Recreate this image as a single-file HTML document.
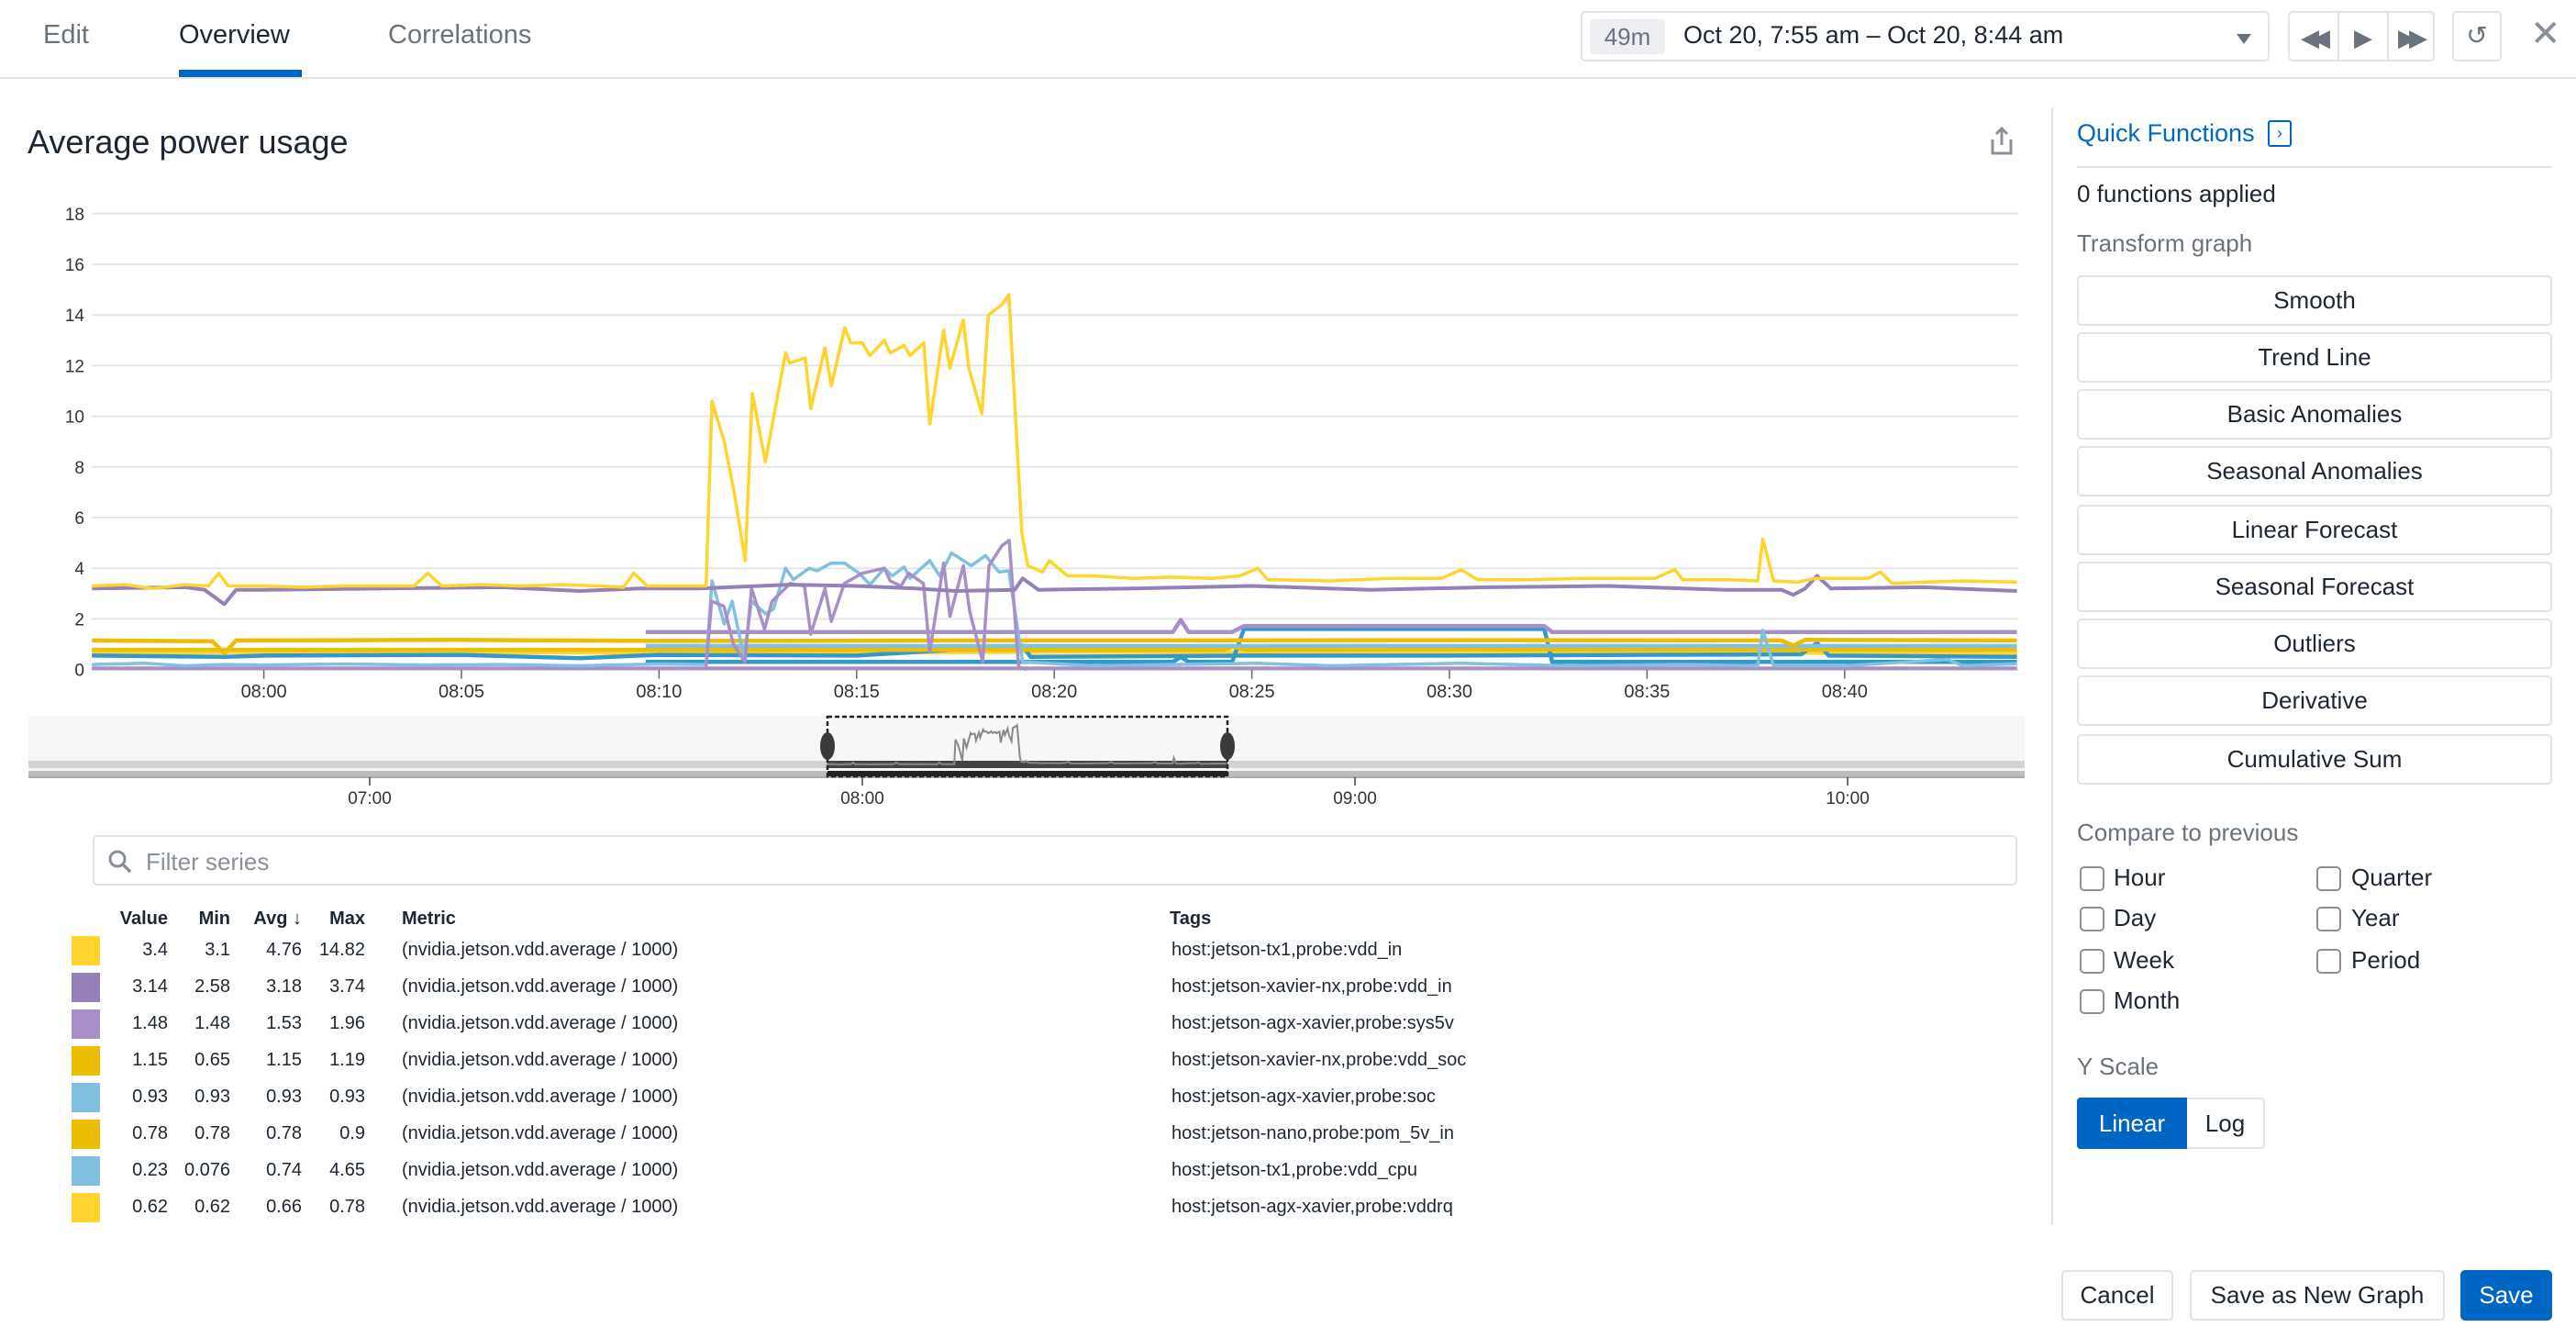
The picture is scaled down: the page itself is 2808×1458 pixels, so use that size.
<!DOCTYPE html>
<html><head><meta charset="utf-8">
<style>
*{box-sizing:border-box;margin:0;padding:0}
body{width:2808px;height:1458px;position:relative;background:#fff;font-family:"Liberation Sans",sans-serif;color:#1d2733;overflow:hidden}
.a{position:absolute}
.tab{position:absolute;top:22px;font-size:29px;color:#6a737d}
.btn{position:absolute;left:2264px;width:518px;height:55px;border:2px solid #e1e3e8;border-radius:5px;background:#fff;font-size:26px;text-align:center;line-height:51px;color:#1d2733}
.cb{position:absolute;width:27px;height:27px;border:2px solid #8a9099;border-radius:5px;background:#fff}
.cbl{position:absolute;font-size:26px;color:#1d2733}
.lg{position:absolute;font-size:20px;color:#1d2733;white-space:nowrap}
.num{text-align:right}
.sw{position:absolute;left:78px;width:31px;height:32px}
</style></head>
<body>
<!-- header -->
<div class="tab" style="left:47px">Edit</div>
<div class="tab" style="left:195px;color:#1d2733">Overview</div>
<div class="a" style="left:195px;top:76px;width:134px;height:8px;background:#0066c4"></div>
<div class="tab" style="left:423px">Correlations</div>
<div class="a" style="left:0;top:84px;width:2808px;height:2px;background:#e1e3e8"></div>

<div class="a" style="left:1723px;top:12px;width:751px;height:55px;border:2px solid #e1e3e8;border-radius:5px">
  <div class="a" style="left:8px;top:7px;width:82px;height:38px;background:#eceef1;border-radius:4px;font-size:26px;color:#6a737d;text-align:center;line-height:38px">49m</div>
  <div class="a" style="left:110px;top:9px;font-size:27px;color:#1d2733">Oct 20, 7:55 am – Oct 20, 8:44 am</div>
  <div class="a" style="left:713px;top:23px;width:0;height:0;border-left:8px solid transparent;border-right:8px solid transparent;border-top:11px solid #6a737d"></div>
</div>
<div class="a" style="left:2494px;top:12px;width:160px;height:55px;border:2px solid #e1e3e8;border-radius:5px">
  <div class="a" style="left:52px;top:0;width:2px;height:51px;background:#e1e3e8"></div>
  <div class="a" style="left:106px;top:0;width:2px;height:51px;background:#e1e3e8"></div>
  <div class="a" style="left:12px;top:12px;font-size:26px;color:#6a737d;letter-spacing:-8px">◀◀</div>
  <div class="a" style="left:70px;top:12px;font-size:26px;color:#6a737d">▶</div>
  <div class="a" style="left:118px;top:12px;font-size:26px;color:#6a737d;letter-spacing:-8px">▶▶</div>
</div>
<div class="a" style="left:2673px;top:12px;width:54px;height:55px;border:2px solid #e1e3e8;border-radius:5px;font-size:28px;color:#6a737d;text-align:center;line-height:50px">↺</div>
<div class="a" style="left:2758px;top:14px;font-size:40px;color:#8a9099;font-weight:200">✕</div>

<div class="a" style="left:30px;top:134px;font-size:36px;color:#1d2733">Average power usage</div>
<svg class="a" style="left:2168px;top:138px" width="28" height="32" viewBox="0 0 28 32"><path d="M14 2 L14 20 M8 8 L14 2 L20 8" stroke="#8a9099" stroke-width="3" fill="none"/><path d="M4 14 L4 29 L24 29 L24 14" stroke="#8a9099" stroke-width="3" fill="none"/></svg>

<!-- chart -->
<svg class="a" id="chart" style="left:0;top:200px" width="2230" height="580" viewBox="0 200 2230 580"></svg>

<!-- navigator -->
<svg class="a" id="nav" style="left:0;top:770px" width="2230" height="120" viewBox="0 770 2230 120"></svg>

<!-- filter -->
<div class="a" style="left:101px;top:910px;width:2098px;height:55px;border:2px solid #e1e3e8;border-radius:5px">
  <svg class="a" style="left:14px;top:13px" width="28" height="28" viewBox="0 0 28 28"><circle cx="11" cy="11" r="8" stroke="#8a9099" stroke-width="3" fill="none"/><path d="M17 17 L25 25" stroke="#8a9099" stroke-width="3.5"/></svg>
  <div class="a" style="left:56px;top:12px;font-size:26px;color:#8a9099">Filter series</div>
</div>

<!-- legend -->
<div id="legend">
  <div class="lg num" style="left:110px;top:990px;width:73px;font-weight:bold">Value</div>
  <div class="lg num" style="left:190px;top:990px;width:61px;font-weight:bold">Min</div>
  <div class="lg num" style="left:260px;top:990px;width:69px;font-weight:bold">Avg ↓</div>
  <div class="lg num" style="left:340px;top:990px;width:58px;font-weight:bold">Max</div>
  <div class="lg" style="left:438px;top:990px;font-weight:bold">Metric</div>
  <div class="lg" style="left:1275px;top:990px;font-weight:bold">Tags</div>
</div>

<!-- right panel -->
<div class="a" style="left:2236px;top:118px;width:2px;height:1217px;background:#e1e3e8"></div>
<div class="a" style="left:2264px;top:130px;font-size:27px;color:#0066c4">Quick Functions</div>
<div class="a" style="left:2472px;top:131px;width:26px;height:29px;border:2px solid #0066c4;border-radius:3px;color:#0066c4;font-size:18px;line-height:24px;text-align:center">›</div>
<div class="a" style="left:2264px;top:181px;width:518px;height:2px;background:#e1e3e8"></div>
<div class="a" style="left:2264px;top:196px;font-size:26px">0 functions applied</div>
<div class="a" style="left:2264px;top:250px;font-size:26px;color:#6a737d">Transform graph</div>
<div class="btn" style="top:300px">Smooth</div>
<div class="btn" style="top:362px">Trend Line</div>
<div class="btn" style="top:424px">Basic Anomalies</div>
<div class="btn" style="top:486px">Seasonal Anomalies</div>
<div class="btn" style="top:550px">Linear Forecast</div>
<div class="btn" style="top:612px">Seasonal Forecast</div>
<div class="btn" style="top:674px">Outliers</div>
<div class="btn" style="top:736px">Derivative</div>
<div class="btn" style="top:800px">Cumulative Sum</div>

<div class="a" style="left:2264px;top:892px;font-size:26px;color:#6a737d">Compare to previous</div>
<div class="cb" style="left:2267px;top:944px"></div><div class="cbl" style="left:2304px;top:941px">Hour</div>
<div class="cb" style="left:2267px;top:988px"></div><div class="cbl" style="left:2304px;top:985px">Day</div>
<div class="cb" style="left:2267px;top:1034px"></div><div class="cbl" style="left:2304px;top:1031px">Week</div>
<div class="cb" style="left:2267px;top:1078px"></div><div class="cbl" style="left:2304px;top:1075px">Month</div>
<div class="cb" style="left:2525px;top:944px"></div><div class="cbl" style="left:2563px;top:941px">Quarter</div>
<div class="cb" style="left:2525px;top:988px"></div><div class="cbl" style="left:2563px;top:985px">Year</div>
<div class="cb" style="left:2525px;top:1034px"></div><div class="cbl" style="left:2563px;top:1031px">Period</div>

<div class="a" style="left:2264px;top:1147px;font-size:26px;color:#6a737d">Y Scale</div>
<div class="a" style="left:2264px;top:1196px;width:120px;height:56px;background:#0066c4;border-radius:4px 0 0 4px;color:#fff;font-size:26px;text-align:center;line-height:56px">Linear</div>
<div class="a" style="left:2384px;top:1196px;width:85px;height:56px;border:2px solid #e1e3e8;border-left:none;border-radius:0 4px 4px 0;font-size:26px;text-align:center;line-height:52px">Log</div>

<div class="a" style="left:2247px;top:1384px;width:122px;height:55px;border:2px solid #e1e3e8;border-radius:5px;font-size:26px;text-align:center;line-height:51px">Cancel</div>
<div class="a" style="left:2387px;top:1384px;width:278px;height:55px;border:2px solid #e1e3e8;border-radius:5px;font-size:26px;text-align:center;line-height:51px">Save as New Graph</div>
<div class="a" style="left:2682px;top:1384px;width:100px;height:55px;background:#0066c4;border-radius:5px;font-size:26px;color:#fff;text-align:center;line-height:55px">Save</div>

<script>
// ---- chart data (time = minutes after 08:00) ----
const yTicks = [0,2,4,6,8,10,12,14,16,18];
const xTickMinutes = [0,5,10,15,20,25,30,35,40];
const xTickLabels = ["08:00","08:05","08:10","08:15","08:20","08:25","08:30","08:35","08:40"];
const navTickHours = [7,8,9,10];
const navTickLabels = ["07:00","08:00","09:00","10:00"];

const tx1InT = [-4.35,-3.5,-2.8,-2.0,-1.4,-1.14,-0.9,0,1,2,3,3.8,4.15,4.5,5.5,6.5,7.5,8.5,9.1,9.36,9.7,10.5,11.19,11.34,11.65,11.9,12.18,12.36,12.69,13.2,13.3,13.7,13.84,14.2,14.36,14.7,14.85,15.14,15.34,15.7,15.85,16.2,16.35,16.7,16.85,17.2,17.36,17.7,17.84,18.17,18.33,18.67,18.85,19.18,19.33,19.7,19.88,20.34,21,22,23,24,24.7,25.15,25.4,27,28.5,29.8,30.3,30.7,32,33.5,35.2,35.7,35.9,37,37.8,37.93,38.2,38.8,39.26,40,40.6,40.9,41.2,42,43,44.36];
const tx1InV = [3.3,3.35,3.2,3.35,3.3,3.8,3.3,3.3,3.25,3.3,3.3,3.3,3.8,3.3,3.35,3.3,3.35,3.3,3.25,3.8,3.3,3.3,3.3,10.6,9.0,7.0,4.3,10.9,8.2,12.5,12.1,12.3,10.3,12.7,11.2,13.5,12.9,12.9,12.4,13.0,12.5,12.8,12.4,12.9,9.7,13.4,11.9,13.8,11.9,10.1,14.0,14.4,14.8,5.4,4.1,3.85,4.3,3.7,3.7,3.6,3.65,3.6,3.7,4.0,3.55,3.5,3.6,3.6,3.95,3.55,3.55,3.6,3.6,3.95,3.55,3.55,3.5,5.15,3.5,3.45,3.6,3.6,3.6,3.85,3.4,3.45,3.5,3.45];

const nxInT = [-4.35,-2,-1.5,-1.0,-0.7,0,3,6,8,9.5,11,13.3,15,16.5,17.5,19.0,19.2,19.6,22,25,28,31,34,37,38.4,38.7,39.0,39.3,39.65,42,44.36];
const nxInV = [3.2,3.25,3.15,2.58,3.15,3.15,3.2,3.25,3.1,3.2,3.2,3.35,3.3,3.2,3.1,3.15,3.6,3.15,3.2,3.3,3.15,3.25,3.3,3.15,3.15,2.95,3.2,3.7,3.2,3.25,3.1];

const agxSys5vT = [9.66,23.0,23.2,23.4,24.5,24.8,32.4,32.6,44.36];
const agxSys5vV = [1.48,1.48,1.96,1.48,1.48,1.72,1.72,1.48,1.48];

const nxSocT = [-4.35,-1.3,-1.0,-0.7,5,10,20,30,38.4,38.7,39.0,44.36];
const nxSocV = [1.15,1.12,0.65,1.15,1.17,1.13,1.15,1.16,1.15,0.95,1.17,1.15];

const agxSocT = [9.66,44.36];
const agxSocV = [0.93,0.93];

const nanoT = [-4.35,10,24.3,24.5,24.9,30,44.36];
const nanoV = [0.78,0.78,0.78,0.9,0.78,0.8,0.78];

const tx1CpuT = [-4.35,-3,-2,-1,0,2,4,6,8,10,11.19,11.34,11.65,11.85,12.15,12.34,12.7,12.9,13.2,13.4,13.8,14.0,14.35,14.7,15.06,15.34,15.7,15.9,16.2,16.35,16.85,17.1,17.4,17.9,18.26,18.6,18.85,19.2,21,23,25.15,27,30.3,33,36,37.8,37.93,38.2,40,42.6,43,44.36];
const tx1CpuV = [0.2,0.25,0.15,0.2,0.18,0.22,0.18,0.2,0.15,0.22,0.2,3.5,1.8,2.7,0.5,2.7,2.2,2.4,4.0,3.55,4.0,3.9,4.2,4.2,3.8,3.35,4.0,3.7,4.05,3.6,4.3,3.7,4.6,4.1,4.5,3.85,3.9,0.3,0.15,0.2,0.25,0.15,0.25,0.15,0.2,0.15,1.55,0.15,0.15,0.4,0.15,0.23];

const agxVddrqT = [-4.35,5,10,20,30,40,44.36];
const agxVddrqV = [0.68,0.7,0.66,0.7,0.68,0.66,0.62];

const blueT = [-4.35,-1,0,5,8,9.5,10,15,19.2,19.4,25,30,38.9,39.3,39.6,44.36];
const blueV = [0.55,0.5,0.55,0.58,0.45,0.55,0.58,0.55,0.95,0.5,0.55,0.55,0.6,1.05,0.55,0.5];

const blue2T = [9.66,23.0,23.2,23.4,24.5,24.8,32.4,32.6,44.36];
const blue2V = [0.3,0.3,0.5,0.3,0.3,1.6,1.6,0.3,0.3];

const agxGpuT = [11.19,11.33,11.64,11.88,12.17,12.34,12.67,12.86,13.32,13.68,13.84,14.2,14.36,14.69,15.14,15.7,15.85,16.12,16.32,16.69,16.85,17.2,17.36,17.7,17.86,18.19,18.35,18.68,18.86,19.1,19.3];
const agxGpuV = [0.1,2.7,2.5,1.0,0.3,3.2,1.6,2.7,3.4,3.3,1.4,3.2,1.9,3.4,3.8,4.0,3.5,3.3,3.8,3.4,0.7,4.2,2.1,4.1,2.3,0.3,4.1,4.9,5.1,0.1,0.0];

const baseT = [-4.35,44.36];
const baseV = [0.05,0.05];

const legendValues = [["3.4","3.1","4.76","14.82"],["3.14","2.58","3.18","3.74"],["1.48","1.48","1.53","1.96"],["1.15","0.65","1.15","1.19"],["0.93","0.93","0.93","0.93"],["0.78","0.78","0.78","0.9"],["0.23","0.076","0.74","4.65"],["0.62","0.62","0.66","0.78"]];
const legendTags = ["host:jetson-tx1,probe:vdd_in","host:jetson-xavier-nx,probe:vdd_in","host:jetson-agx-xavier,probe:sys5v","host:jetson-xavier-nx,probe:vdd_soc","host:jetson-agx-xavier,probe:soc","host:jetson-nano,probe:pom_5v_in","host:jetson-tx1,probe:vdd_cpu","host:jetson-agx-xavier,probe:vddrq"];
const legendColors = ["#ffd42e","#9580b9","#a98fc8","#ecbd00","#82c0e0","#ecbd00","#82c0e0","#ffd42e"];

// ---- axes ----
const X0=100,X1=2200,Y0=729.6,PXMIN=43.08,T0=-4.35;
function xs(t){return 287.6+t*PXMIN;}
function ys(v){return Y0-v*27.6;}
const NS="http://www.w3.org/2000/svg";
const svg=document.getElementById('chart');
function mk(tag,attrs,parent){const e=document.createElementNS(NS,tag);for(const k in attrs)e.setAttribute(k,attrs[k]);(parent||svg).appendChild(e);return e;}

yTicks.forEach(v=>{
  const g=mk('line',{x1:X0,x2:X1,y1:ys(v),y2:ys(v),stroke:v===0?'#d0d0d0':'#e6e6e6','stroke-width':2});
  
  
  const t=mk('text',{x:92,y:ys(v)+7,'text-anchor':'end','font-size':19,fill:'#333','font-family':'Liberation Sans Narrow, Liberation Sans, sans-serif'});
  t.textContent=v;
  
  
});
xTickMinutes.forEach((m,i)=>{
  const l=mk('line',{x1:xs(m),x2:xs(m),y1:Y0,y2:Y0+10,stroke:'#666','stroke-width':1.5});
  
  
  const t=mk('text',{x:xs(m),y:760,'text-anchor':'middle','font-size':20,fill:'#333','font-family':'Liberation Sans Narrow, Liberation Sans, sans-serif'});
  t.textContent=xTickLabels[i];
  
  
});
function series(T,V,color,w,name){
  const pts=T.map((t,i)=>xs(t).toFixed(1)+','+ys(V[i]).toFixed(1)).join(' ');
  const p=mk('polyline',{points:pts,fill:'none',stroke:color,'stroke-width':w,'stroke-linejoin':'round'});
  
  
}
series(baseT,baseV,'#a98fc8',4,'series-base');
series(agxVddrqT,agxVddrqV,'#ffd42e',4.5,'series-agx-vddrq');
series(blue2T,blue2V,'#3399cc',4.5,'series-blue-2');
series(blueT,blueV,'#3399cc',4.5,'series-blue');
series(nanoT,nanoV,'#ecbd00',4.5,'series-nano-pom5v');
series(agxSocT,agxSocV,'#82c0e0',4.5,'series-agx-soc');
series(nxSocT,nxSocV,'#ecbd00',4.5,'series-nx-vdd-soc');
series(agxSys5vT,agxSys5vV,'#a98fc8',4.5,'series-agx-sys5v');
series(tx1CpuT,tx1CpuV,'#82c0e0',3.5,'series-tx1-vdd-cpu');
series(agxGpuT,agxGpuV,'#a98fc8',3.5,'series-agx-spiky');
series(nxInT,nxInV,'#9580b9',4,'series-nx-vdd-in');
series(tx1InT,tx1InV,'#ffd42e',3.5,'series-tx1-vdd-in');

// ---- navigator ----
const nav=document.getElementById('nav');
function nx(h){return 403+(h-7)*537;}
function nmin(t){return nx(8+t/60);}
function ny(v){return 845-v*3.7;}
const bg=mk('rect',{x:31,y:780,width:2176,height:67,fill:'#f7f7f7'},nav);


mk('rect',{x:31,y:829,width:2176,height:8,fill:'#d2d2d2'},nav);
mk('rect',{x:31,y:840,width:2176,height:6,fill:'#bdbdbd'},nav);
mk('line',{x1:31,x2:2207,y1:847,y2:847,stroke:'#aaa','stroke-width':2},nav);
mk('rect',{x:902,y:829,width:436,height:8,fill:'#444'},nav);
mk('rect',{x:902,y:840,width:436,height:6,fill:'#222'},nav);
const np=mk('polyline',{points:tx1InT.map((t,i)=>nmin(t).toFixed(1)+','+ny(tx1InV[i]).toFixed(1)).join(' '),fill:'none',stroke:'#888','stroke-width':2},nav);


const sel=mk('rect',{x:902,y:781,width:436,height:65,fill:'none',stroke:'#222','stroke-width':2.5,'stroke-dasharray':'5,3'},nav);


[902,1338].forEach(x=>{
  const h=mk('ellipse',{cx:x,cy:813,rx:8,ry:15,fill:'#3a3a3a'},nav);
  
  
});
navTickHours.forEach((h,i)=>{
  mk('line',{x1:nx(h),x2:nx(h),y1:847,y2:856,stroke:'#444','stroke-width':1.5},nav);
  const t=mk('text',{x:nx(h),y:876,'text-anchor':'middle','font-size':19,fill:'#333','font-family':'Liberation Sans Narrow, Liberation Sans, sans-serif'},nav);
  t.textContent=navTickLabels[i];
  
  
});

// ---- legend ----
const lg=document.getElementById('legend');
legendValues.forEach((row,i)=>{
  const top=1036+i*40;
  const s=document.createElement('div');
  s.className='sw';s.style.top=(top-16)+'px';s.style.background=legendColors[i];
  
  
  lg.appendChild(s);
  const cols=[[110,73],[190,61],[260,69],[340,58]];
  row.forEach((v,j)=>{
    const d=document.createElement('div');
    d.className='lg num';d.style.left=cols[j][0]+'px';d.style.width=cols[j][1]+'px';d.style.top=(top-12)+'px';
    d.textContent=v;
    
    
    lg.appendChild(d);
  });
  const m=document.createElement('div');
  m.className='lg';m.style.left='438px';m.style.top=(top-12)+'px';m.textContent='(nvidia.jetson.vdd.average / 1000)';
  
  
  lg.appendChild(m);
  const tg=document.createElement('div');
  tg.className='lg';tg.style.left='1277px';tg.style.top=(top-12)+'px';tg.textContent=legendTags[i];
  
  
  lg.appendChild(tg);
});
</script>
</body></html>
